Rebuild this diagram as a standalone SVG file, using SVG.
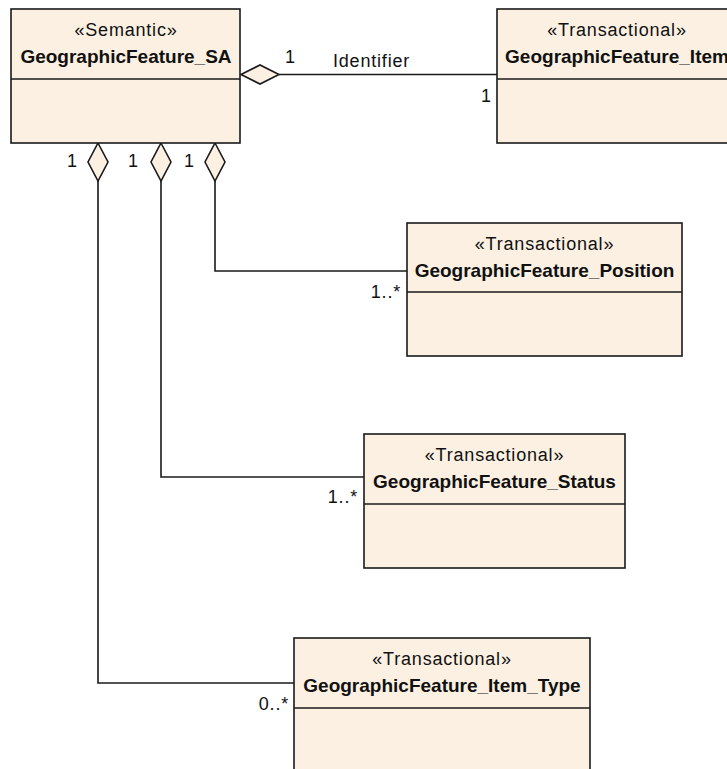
<svg xmlns="http://www.w3.org/2000/svg" width="727" height="769" viewBox="0 0 727 769">
<style>
.box{fill:#FBF0E2;stroke:#1a1a1a;stroke-width:1.6}
.div{stroke:#1a1a1a;stroke-width:1.6}
.st{font-family:"Liberation Sans",Arial,sans-serif;font-size:18px;letter-spacing:0.8px;text-anchor:middle;fill:#111}
.nm{font-family:"Liberation Sans",Arial,sans-serif;font-size:19px;font-weight:bold;text-anchor:middle;fill:#111}
.lb{font-family:"Liberation Sans",Arial,sans-serif;font-size:18px;letter-spacing:0.8px;fill:#111}
.ln{fill:none;stroke:#1a1a1a;stroke-width:1.6}
.dm{fill:#FBF0E2;stroke:#1a1a1a;stroke-width:1.6}
</style>
<rect width="727" height="769" fill="#ffffff"/>
<g id="connectors">
<polygon class="dm" points="241,74.5 260,65 279,74.5 260,84"/>
<line class="ln" x1="279" y1="74.5" x2="497" y2="74.5"/>
<polygon class="dm" points="98,143 108,162 98,181 88,162"/>
<polyline class="ln" points="98,181 98,683 294,683"/>
<polygon class="dm" points="161,143 171,162 161,181 151,162"/>
<polyline class="ln" points="161,181 161,477 364,477"/>
<polygon class="dm" points="215,143 225,162 215,181 205,162"/>
<polyline class="ln" points="215,181 215,271 407,271"/>
<text class="lb" x="285" y="63">1</text>
<text class="lb" x="333" y="67">Identifier</text>
<text class="lb" x="481" y="102">1</text>
<text class="lb" x="67" y="167">1</text>
<text class="lb" x="128" y="167">1</text>
<text class="lb" x="184" y="167">1</text>
<text class="lb" x="401" y="298" text-anchor="end">1..*</text>
<text class="lb" x="358" y="503" text-anchor="end">1..*</text>
<text class="lb" x="289" y="710" text-anchor="end">0..*</text>
</g>
<g id="GeographicFeature_SA">
<rect class="box" x="11" y="9" width="229" height="134"/>
<line class="div" x1="11" y1="79" x2="240" y2="79"/>
<text class="st" x="126" y="36">«Semantic»</text>
<text class="nm" x="126" y="63">GeographicFeature_SA</text>
</g>
<g id="GeographicFeature_Item">
<rect class="box" x="497" y="9" width="240" height="134"/>
<line class="div" x1="497" y1="79" x2="737" y2="79"/>
<text class="st" x="617" y="36">«Transactional»</text>
<text class="nm" x="617" y="63">GeographicFeature_Item</text>
</g>
<g id="GeographicFeature_Position">
<rect class="box" x="407" y="223" width="275" height="133"/>
<line class="div" x1="407" y1="292" x2="682" y2="292"/>
<text class="st" x="544.5" y="250">«Transactional»</text>
<text class="nm" x="544.5" y="277">GeographicFeature_Position</text>
</g>
<g id="GeographicFeature_Status">
<rect class="box" x="364" y="434" width="261" height="134"/>
<line class="div" x1="364" y1="504" x2="625" y2="504"/>
<text class="st" x="494.5" y="461">«Transactional»</text>
<text class="nm" x="494.5" y="488">GeographicFeature_Status</text>
</g>
<g id="GeographicFeature_Item_Type">
<rect class="box" x="294" y="638" width="296" height="140"/>
<line class="div" x1="294" y1="708" x2="590" y2="708"/>
<text class="st" x="442" y="665">«Transactional»</text>
<text class="nm" x="442" y="692">GeographicFeature_Item_Type</text>
</g>
</svg>
